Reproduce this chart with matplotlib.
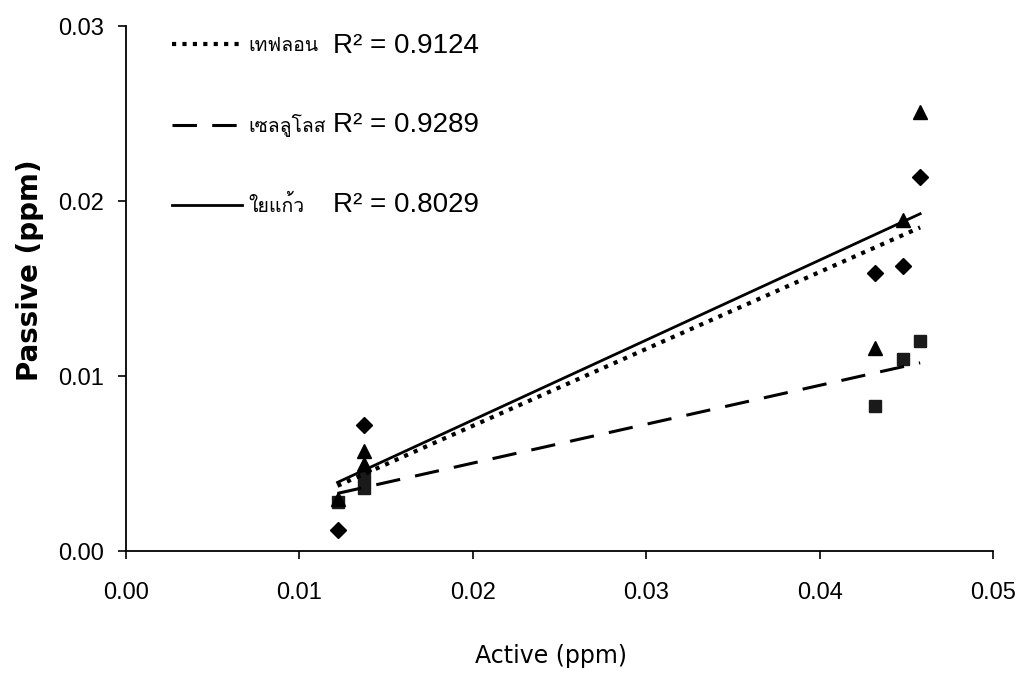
import matplotlib
matplotlib.use("Agg")
import numpy as np
import matplotlib.pyplot as plt
from matplotlib import font_manager
from matplotlib.ft2font import FT2Font
from matplotlib.lines import Line2D

# values
active_teflon = [0.0122, 0.0137, 0.0432, 0.0448, 0.0458]
passive_teflon = [0.0012, 0.0072, 0.0159, 0.0163, 0.0214]

active_cellulose = [0.0122, 0.0137, 0.0137, 0.0432, 0.0448, 0.0458]
passive_cellulose = [0.0028, 0.0036, 0.0043, 0.0083, 0.0110, 0.0120]

active_glass = [0.0122, 0.0137, 0.0137, 0.0432, 0.0448, 0.0458]
passive_glass = [0.0030, 0.0050, 0.0057, 0.0116, 0.0189, 0.0251]

names = ["เทฟลอน", "เซลลูโลส", "ใยแก้ว"]
r2_values = ["0.9124", "0.9289", "0.8029"]

x_ticks = [0.00, 0.01, 0.02, 0.03, 0.04, 0.05]
y_ticks = [0.00, 0.01, 0.02, 0.03]


def find_thai_font():
    for f in font_manager.fontManager.ttflist:
        try:
            ft = FT2Font(f.fname)
            if ft.get_char_index(ord("ท")) != 0:
                return f.name
        except Exception:
            pass
    return None


thai = find_thai_font()
thai_family = [thai, "DejaVu Sans"] if thai else ["DejaVu Sans"]
num_family = ["Liberation Sans Narrow", "Liberation Sans", "DejaVu Sans"]

fig = plt.figure(figsize=(10.2, 6.79), dpi=100)
ax = fig.add_axes([0.1235, 0.1885, 0.85, 0.7732])

ax.plot(active_teflon, passive_teflon, "D", color="black", markersize=8.5,
        linestyle="none")
ax.plot(active_cellulose, passive_cellulose, "s", color="#1a1a1a",
        markersize=8.5, linestyle="none")
ax.plot(active_glass, passive_glass, "^", color="black", markersize=9.5,
        linestyle="none")

# linear trendlines
styles = [
    dict(linestyle=(0, (1.0, 1.5)), linewidth=3.0, dash_capstyle="butt"),
    dict(linestyle=(0, (8, 5)), linewidth=2.2),
    dict(linestyle="-", linewidth=2.0),
]
series = [(active_teflon, passive_teflon),
          (active_cellulose, passive_cellulose),
          (active_glass, passive_glass)]
handles = []
for (xs, ys), st in zip(series, styles):
    k, b = np.polyfit(xs, ys, 1)
    xx = np.array([min(xs), max(xs)])
    ax.plot(xx, k * xx + b, color="black", **st)
    handles.append(Line2D([], [], color="black", **st))

ax.set_xlim(0, 0.05)
ax.set_ylim(0, 0.03)
ax.set_xticks(x_ticks)
ax.set_yticks(y_ticks)
ax.set_xticklabels([f"{v:.2f}" for v in x_ticks])
ax.set_yticklabels([f"{v:.2f}" for v in y_ticks])
for lab in ax.get_xticklabels() + ax.get_yticklabels():
    lab.set_family(num_family)
    lab.set_fontsize(17)

ax.tick_params(axis="both", direction="out", length=6, width=1.2,
               colors="black")
ax.tick_params(axis="x", pad=16)
ax.tick_params(axis="y", pad=10)

ax.spines["top"].set_visible(False)
ax.spines["right"].set_visible(False)
ax.spines["left"].set_linewidth(1.3)
ax.spines["bottom"].set_linewidth(1.3)

ax.set_xlabel("Active (ppm)", fontsize=17, family="DejaVu Sans")
ax.xaxis.set_label_coords(0.49, -0.177)
ax.set_ylabel("Passive (ppm)", fontsize=20, fontweight="bold",
              family="DejaVu Sans")
ax.yaxis.set_label_coords(-0.094, 0.535)

leg = ax.legend(handles, names, loc="upper left",
                bbox_to_anchor=(0.053, 0.979), frameon=False,
                borderpad=0, borderaxespad=0, handlelength=3.6,
                handletextpad=0.35, labelspacing=3.0,
                prop=dict(family=thai_family, size=14))

fig.canvas.draw()
inv = ax.transAxes.inverted()
for txt, r2 in zip(leg.get_texts(), r2_values):
    bb = txt.get_window_extent()
    cy = (bb.y0 + bb.y1) / 2
    _, ya = inv.transform((0, cy))
    ax.text(0.239, ya, f"R² = {r2}", transform=ax.transAxes,
            va="center", ha="left", fontsize=20, family=num_family)

fig.savefig("out.png", dpi=100)
